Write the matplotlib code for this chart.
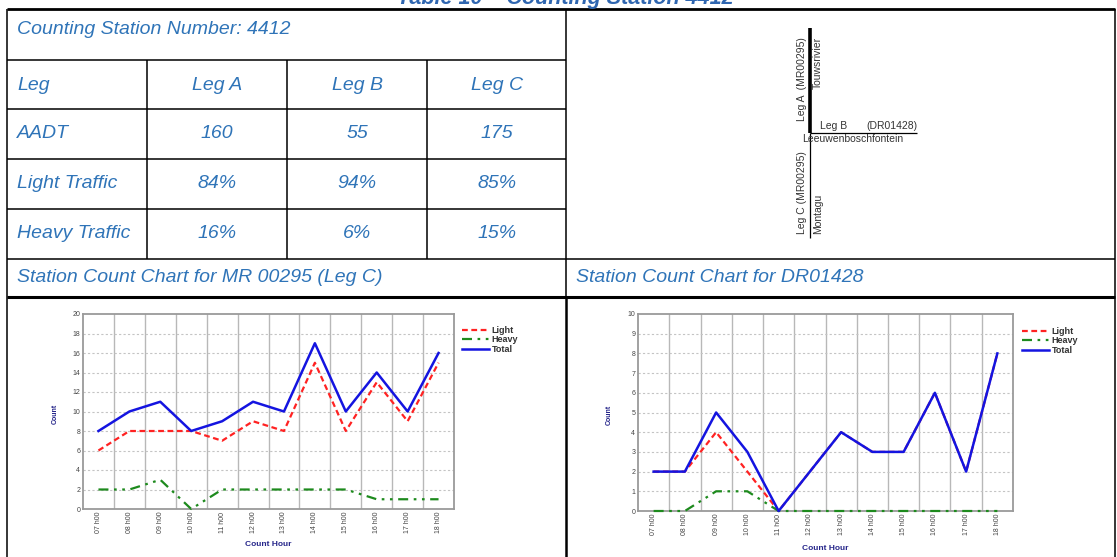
import numpy as np
import matplotlib
matplotlib.use("Agg")
import matplotlib.pyplot as plt

plt.rcParams['font.family'] = ['Liberation Sans', 'DejaVu Sans']

# ---------------- data ----------------
page_title = "Table 10 \u2013 Counting Station 4412"
station_title = "Counting Station Number: 4412"
row_headers = ["Leg", "AADT", "Light Traffic", "Heavy Traffic"]
legs = ["Leg A", "Leg B", "Leg C"]
aadt = [160, 55, 175]
light_share = [84, 94, 85]
heavy_share = [16, 6, 15]

chart_title_left = "Station Count Chart for MR 00295 (Leg C)"
chart_title_right = "Station Count Chart for DR01428"

hours = ["07 h00", "08 h00", "09 h00", "10 h00", "11 h00", "12 h00",
         "13 h00", "14 h00", "15 h00", "16 h00", "17 h00", "18 h00"]
mr_light = [6, 8, 8, 8, 7, 9, 8, 15, 8, 13, 9, 15]
mr_heavy = [2, 2, 3, 0, 2, 2, 2, 2, 2, 1, 1, 1]
mr_total = [8, 10, 11, 8, 9, 11, 10, 17, 10, 14, 10, 16]
dr_light = [2, 2, 4, 2, 0, 2, 4, 3, 3, 6, 2, 8]
dr_heavy = [0, 0, 1, 1, 0, 0, 0, 0, 0, 0, 0, 0]
dr_total = [2, 2, 5, 3, 0, 2, 4, 3, 3, 6, 2, 8]
series_names = ["Light", "Heavy", "Total"]

# ---------------- figure ----------------
W, H = 1117, 557
fig = plt.figure(figsize=(W / 100, H / 100), dpi=100)
bg = fig.add_axes([0, 0, 1, 1])
bg.set_xlim(0, W)
bg.set_ylim(H, 0)
bg.axis('off')

BLUE = '#2f74b8'
K = 'black'

def hline(y, x0, x1, lw=1.1):
    bg.plot([x0, x1], [y, y], color=K, lw=lw, solid_capstyle='butt')

def vline(x, y0, y1, lw=1.1):
    bg.plot([x, x], [y0, y1], color=K, lw=lw, solid_capstyle='butt')

# table grid
L, R, MID = 7, 1115, 566
rows_y = [9, 60, 109, 159, 209, 259]
cols_x = [147, 287, 427]
hline(9, L, R, lw=2.0)
for y in rows_y[1:5]:
    hline(y, L, MID)
hline(259, L, R)
hline(297, L, R, lw=2.2)
vline(L, 9, H)
vline(R, 9, H)
vline(MID, 9, 297)
vline(MID, 297, H, lw=1.8)
for x in cols_x:
    vline(x, 60, 259)

tkw = dict(fontsize=14, style='italic', color=BLUE, va='center')
bg.text(W / 2 + 7, 4, page_title, ha='center', va='baseline', fontsize=15.5,
        style='italic', weight='bold', color='#2f66b0')
bg.text(17, 29, station_title, ha='left', **tkw)
centers = [217, 357, 497]
row_centers = [85, 134, 184, 234]
for yc, hdr in zip(row_centers, row_headers):
    bg.text(17, yc, hdr, ha='left', **tkw)
for xc, leg, a, lp, hp in zip(centers, legs, aadt, light_share, heavy_share):
    bg.text(xc, row_centers[0], leg, ha='center', **tkw)
    bg.text(xc, row_centers[1], str(a), ha='center', **tkw)
    bg.text(xc, row_centers[2], f"{lp}%", ha='center', **tkw)
    bg.text(xc, row_centers[3], f"{hp}%", ha='center', **tkw)
bg.text(17, 278, chart_title_left, ha='left', **tkw)
bg.text(576, 278, chart_title_right, ha='left', **tkw)

# ---------------- junction diagram ----------------
DG = '#333333'
dkw = dict(fontsize=7.5, color=DG)
bg.plot([810, 810], [28, 133], color=K, lw=2.6, solid_capstyle='butt')
bg.plot([810, 810], [133, 238], color=K, lw=0.9, solid_capstyle='butt')
bg.plot([810, 917], [133, 133], color=K, lw=0.9, solid_capstyle='butt')
bg.text(802, 121, "Leg A  (MR00295)", rotation=90, ha='center', va='bottom', **dkw)
bg.text(818, 89, "Touwsrivier", rotation=90, ha='center', va='bottom', **dkw)
bg.text(820, 126, "Leg B", ha='left', va='center', **dkw)
bg.text(866, 126, "(DR01428)", ha='left', va='center', **dkw)
bg.text(802, 139, "Leeuwenboschfontein", ha='left', va='center', **dkw)
bg.text(802, 234, "Leg C (MR00295)", rotation=90, ha='center', va='bottom', **dkw)
bg.text(818, 234, "Montagu", rotation=90, ha='center', va='bottom', **dkw)

# ---------------- charts ----------------
def ax_px(x0, y0, x1, y1):
    return fig.add_axes([x0 / W, 1 - y1 / H, (x1 - x0) / W, (y1 - y0) / H])

NAVY = '#25258a'

def chart(box, light, heavy, total, ymax, step, leg_xy, ylab_x, xlab_y):
    ax = ax_px(*box)
    x = np.arange(len(hours))
    ax.plot(x, light, color='#ff2222', lw=1.6, ls=(0, (2.6, 1.6)),
            label=series_names[0], clip_on=False, zorder=3)
    ax.plot(x, heavy, color='#1d8a1d', lw=1.6, ls=(0, (4.5, 2.5, 1.2, 2.5, 1.2, 2.5)),
            label=series_names[1], clip_on=False, zorder=3)
    ax.plot(x, total, color='#1414e0', lw=1.8, label=series_names[2],
            clip_on=False, zorder=4)
    ax.set_xlim(-0.5, len(hours) - 0.5)
    ax.set_ylim(0, ymax)
    yt = np.arange(0, ymax + 1, step)
    ax.set_yticks(yt)
    ax.set_yticklabels([str(v) for v in yt], fontsize=5, color='#444444')
    ax.set_xticks(x)
    ax.set_xticklabels(hours, rotation=90, fontsize=5, color='#444444')
    ax.tick_params(length=0, pad=2)
    for b in np.arange(0.5, len(hours) - 1, 1):
        ax.axvline(b, color='#b8b8b8', lw=1.0, zorder=1)
    for t in yt[1:-1]:
        ax.axhline(t, color='#c4c4c4', lw=0.8, ls=(0, (2, 2)), zorder=1)
    for s in ax.spines.values():
        s.set_color('#9a9a9a')
        s.set_linewidth(1.3)
    ax.legend(loc='upper left', bbox_to_anchor=leg_xy, bbox_transform=bg.transData,
              frameon=False, fontsize=6.5, handlelength=3.0, handletextpad=0.3,
              labelspacing=0.05, borderpad=0, borderaxespad=0,
              prop={'size': 6.5, 'weight': 'bold'})
    for t in ax.get_legend().get_texts():
        t.set_color('#333333')
    yc = (box[1] + box[3]) / 2 + 2
    bg.text(ylab_x, yc, "Count", rotation=90, ha='center', va='center',
            fontsize=5, weight='bold', color=NAVY)
    bg.text((box[0] + box[2]) / 2, xlab_y, "Count Hour", ha='center', va='center',
            fontsize=6, weight='bold', color=NAVY)
    return ax

chart((83, 314, 454, 509), mr_light, mr_heavy, mr_total, 20, 2,
      (462, 326), 55, 545)
chart((638, 314, 1013, 511), dr_light, dr_heavy, dr_total, 10, 1,
      (1022, 327), 609, 548)

fig.savefig("out.png", dpi=100)
